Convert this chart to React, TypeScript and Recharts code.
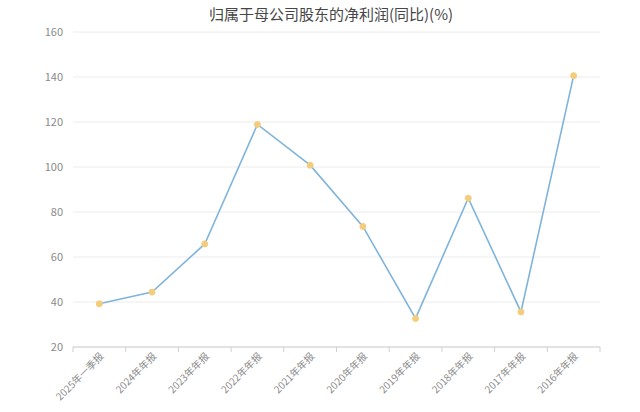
import React from "react";
import { LineChart, Line, XAxis, YAxis, CartesianGrid } from "recharts";

const categories = [
  "2025年一季报",
  "2024年年报",
  "2023年年报",
  "2022年年报",
  "2021年年报",
  "2020年年报",
  "2019年年报",
  "2018年年报",
  "2017年年报",
  "2016年年报",
];
const growth = [39.2, 44.4, 65.8, 118.9, 100.8, 73.6, 32.7, 86.1, 35.6, 140.6];
const yTicks = [20, 40, 60, 80, 100, 120, 140, 160];
const title = "归属于母公司股东的净利润(同比)(%)";

const data = categories.map((c, i) => ({ name: c, value: growth[i] }));

const FONT = "'Noto Sans CJK SC', 'Noto Sans', sans-serif";
const AXIS_COLOR = "#cfcfcf";

const XTick = (props: any) => {
  const { x, y, payload, index } = props;
  const half = payload && payload.offset ? payload.offset : 0;
  const isLast = index === categories.length - 1;
  return (
    <g>
      <line x1={x - half} y1={y} x2={x - half} y2={y + 5} stroke={AXIS_COLOR} />
      {isLast && (
        <line x1={x + half} y1={y} x2={x + half} y2={y + 5} stroke={AXIS_COLOR} />
      )}
      <g transform={`translate(${x + 5},${y + 10})`}>
        <text
          x={0}
          y={0}
          textAnchor="end"
          transform="rotate(-45)"
          fontSize={10}
          fill="#8a8a8a"
          fontFamily={FONT}
        >
          {payload.value}
        </text>
      </g>
    </g>
  );
};

export default function App() {
  return (
    <div
      style={{
        position: "absolute",
        left: 0,
        top: 0,
        width: 640,
        height: 412,
        background: "#fff",
        fontFamily: FONT,
      }}
    >
      <div
        style={{
          position: "absolute",
          left: 0,
          top: 4,
          width: 662,
          textAlign: "center",
          fontSize: 15,
          color: "#464646",
          lineHeight: "20px",
        }}
      >
        {title}
      </div>
      <LineChart
        width={640}
        height={412}
        data={data}
        margin={{ top: 32, right: 40, left: 0, bottom: 0 }}
      >
        <CartesianGrid vertical={false} stroke="#ececec" />
        <XAxis
          dataKey="name"
          scale="band"
          interval={0}
          height={65}
          axisLine={{ stroke: AXIS_COLOR }}
          tickLine={false}
          tickSize={0}
          tickMargin={0}
          tick={<XTick />}
        />
        <YAxis
          width={73}
          domain={[20, 160]}
          ticks={yTicks}
          interval={0}
          axisLine={false}
          tickLine={false}
          tickSize={0}
          tickMargin={10}
          tick={{ fontSize: 11, fill: "#8a8a8a", fontFamily: FONT }}
        />
        <Line
          type="linear"
          dataKey="value"
          stroke="#7fb4dc"
          strokeWidth={1.6}
          dot={{ r: 3, fill: "#f3cd7c", stroke: "#f3cd7c", strokeWidth: 1 }}
          isAnimationActive={false}
        />
      </LineChart>
    </div>
  );
}
